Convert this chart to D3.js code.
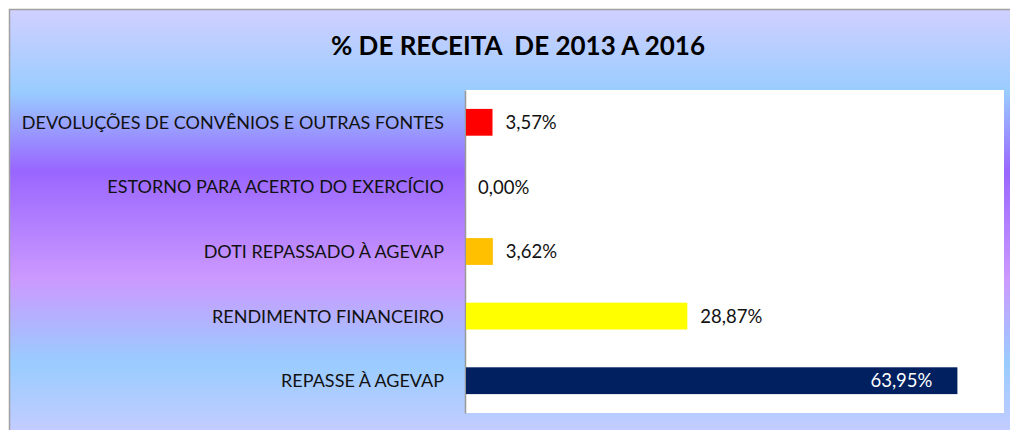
<!DOCTYPE html>
<html>
<head>
<meta charset="utf-8">
<script src="https://cdn.jsdelivr.net/npm/d3@7"></script>
<style>
  html, body { margin: 0; padding: 0; background: #fff; }
  svg { display: block; }
  text { font-family: Lato, "Open Sans", sans-serif; }
</style>
</head>
<body>
<div id="chart"></div>
<script>
const width = 1010;
const height = 430;

const title = '% DE RECEITA  DE 2013 A 2016';
const categories = [
  'DEVOLUÇÕES DE CONVÊNIOS E OUTRAS FONTES',
  'ESTORNO PARA ACERTO DO EXERCÍCIO',
  'DOTI REPASSADO À AGEVAP',
  'RENDIMENTO FINANCEIRO',
  'REPASSE À AGEVAP'
];
const values = [3.57, 0.00, 3.62, 28.87, 63.95];
const barColors = ['#ff0000', '#ffffff', '#ffc000', '#ffff00', '#002060'];

const plot = { left: 465, right: 1004, top: 90, bottom: 413 };

const ptBR = d3.formatLocale({ decimal: ',', thousands: '.', grouping: [3], currency: ['R$', ''] });
const fmt = d => ptBR.format('.2f')(d) + '%';

const svg = d3.select('#chart')
    .append('svg')
    .attr('width', width)
    .attr('height', height);

// chart area background (vertical multi-stop gradient)
const grad = svg.append('defs').append('linearGradient')
    .attr('id', 'bg')
    .attr('gradientUnits', 'userSpaceOnUse')
    .attr('x1', 0).attr('x2', 0)
    .attr('y1', 10).attr('y2', 440);
[
  [0, '#d0d0ff'],
  [0.19, '#99ccff'],
  [0.375, '#9966ff'],
  [0.625, '#cc99ff'],
  [0.82, '#99ccff'],
  [1, '#c8ccff']
].forEach(s => grad.append('stop').attr('offset', s[0]).attr('stop-color', s[1]));

svg.append('rect')
    .attr('x', 9.5)
    .attr('y', 9.5)
    .attr('width', 1030)
    .attr('height', 450)
    .attr('fill', 'url(#bg)')
    .attr('stroke', '#a0a0a0')
    .attr('stroke-width', 1.5);

svg.append('text')
    .attr('x', 518)
    .attr('y', 55)
    .attr('text-anchor', 'middle')
    .style('font-size', '26px')
    .style('font-weight', 'bold')
    .style('white-space', 'pre')
    .attr('fill', '#000')
    .text(title);

// plot area
svg.append('rect')
    .attr('x', plot.left)
    .attr('y', plot.top)
    .attr('width', plot.right - plot.left)
    .attr('height', plot.bottom - plot.top)
    .attr('fill', '#fff');

const x = d3.scaleLinear()
    .domain([0, 70])
    .range([plot.left, plot.right]);

const y = d3.scaleBand()
    .domain(categories)
    .range([plot.top, plot.bottom])
    .paddingInner(0.585)
    .paddingOuter(0.2925);

const yAxis = svg.append('g')
    .attr('transform', 'translate(' + plot.left + ',0)')
    .call(d3.axisLeft(y).tickSize(0).tickPadding(21));

yAxis.select('.domain')
    .attr('stroke', '#999')
    .attr('stroke-width', 1.5);

yAxis.selectAll('text')
    .style('font-size', '18px')
    .style('font-family', 'Lato, "Open Sans", sans-serif')
    .attr('fill', '#111')
    .attr('dy', '0.36em');

svg.append('g')
    .selectAll('rect')
    .data(values)
    .enter()
    .append('rect')
    .attr('x', x(0) + 1)
    .attr('y', (d, i) => y(categories[i]))
    .attr('width', d => Math.max(0, x(d) - x(0) - 1))
    .attr('height', y.bandwidth())
    .attr('fill', (d, i) => barColors[i]);

svg.append('g')
    .selectAll('text')
    .data(values)
    .enter()
    .append('text')
    .attr('x', d => d > 50 ? x(d) - 25 : x(d) + 13)
    .attr('y', (d, i) => y(categories[i]) + y.bandwidth() / 2)
    .attr('dy', '0.36em')
    .attr('text-anchor', d => d > 50 ? 'end' : 'start')
    .style('font-size', '18.5px')
    .attr('fill', d => d > 50 ? '#ffffff' : '#111')
    .text(d => fmt(d));
</script>
</body>
</html>
